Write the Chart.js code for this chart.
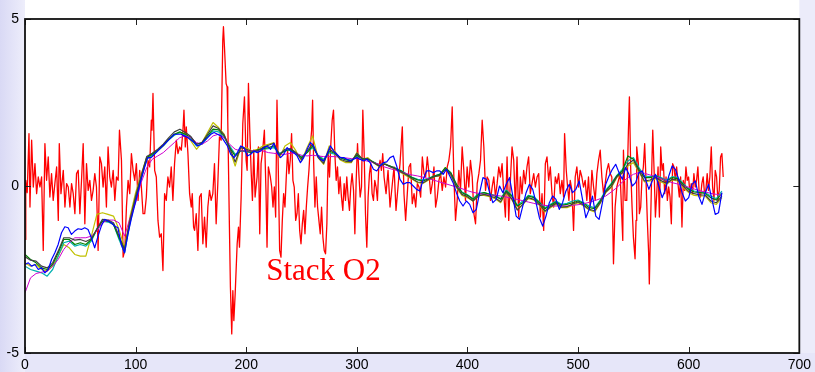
<!DOCTYPE html>
<html>
<head>
<meta charset="utf-8">
<script src="https://cdn.jsdelivr.net/npm/chart.js@4/dist/chart.umd.min.js"></script>
<style>
    html, body { margin: 0; padding: 0; background: #ffffff; }
    canvas { display: block; }
</style>
</head>
<body>
<canvas id="stackChart" width="815" height="372"></canvas>
<script>
// Axis ticks
const xTicks = [0, 100, 200, 300, 400, 500, 600, 700];
const yTicks = [-5, 0, 5];
const chartLabel = "Stack O2";

// Sample positions of the smooth records
const bundleX = [
    0, 5, 10, 15, 20, 25, 30, 35, 40, 45,
    50, 55, 60, 65, 70, 75, 80, 85, 90, 95,
    100, 105, 110, 115, 120, 125, 130, 135, 140, 145,
    150, 155, 160, 165, 170, 175, 180, 185, 190, 195,
    200, 205, 210, 215, 220, 225, 230, 235, 240, 245,
    250, 255, 260, 265, 270, 275, 280, 285, 290, 295,
    300, 305, 310, 315, 320, 325, 330, 335, 340, 345,
    350, 355, 360, 365, 370, 375, 380, 385, 390, 395,
    400, 405, 410, 415, 420, 425, 430, 435, 440, 445,
    450, 455, 460, 465, 470, 475, 480, 485, 490, 495,
    500, 505, 510, 515, 520, 525, 530, 535, 540, 545,
    550, 555, 560, 565, 570, 575, 580, 585, 590, 595,
    600, 605, 610, 615, 620, 625, 630
];

const blackY = [
    -2.12, -2.22, -2.25, -2.40, -2.45, -2.30, -1.95, -1.55, -1.55, -1.62,
    -1.60, -1.66, -1.58, -1.28, -1.00, -1.02, -1.10, -1.50, -1.90, -1.00,
    -0.30, 0.30, 0.88, 0.98, 1.10, 1.25, 1.45, 1.62, 1.70, 1.60,
    1.48, 1.25, 1.30, 1.55, 1.80, 1.72, 1.53, 1.15, 0.72, 1.15,
    1.10, 1.04, 1.05, 1.15, 1.22, 1.28, 0.92, 1.10, 1.12, 1.00,
    0.80, 1.05, 1.25, 0.85, 0.68, 1.10, 1.00, 0.80, 0.74, 0.72,
    0.98, 0.80, 0.82, 0.70, 0.60, 0.66, 0.58, 0.52, 0.42, 0.33,
    0.22, 0.12, 0.10, 0.20, 0.28, 0.32, 0.50, 0.35, -0.02, -0.25,
    -0.32, -0.45, -0.30, -0.25, -0.30, -0.35, -0.47, -0.18, -0.38, -0.72,
    -0.55, -0.35, -0.40, -0.55, -0.75, -0.62, -0.52, -0.63, -0.62, -0.54,
    -0.48, -0.57, -0.70, -0.74, -0.50, -0.18, -0.02, 0.28, 0.40, 0.65,
    0.78, 0.45, 0.15, 0.18, 0.25, 0.16, 0.08, 0.20, 0.18, 0.00,
    -0.16, -0.23, -0.27, -0.27, -0.45, -0.50, -0.30
];

const greenY = [
    -2.05, -2.20, -2.30, -2.45, -2.50, -2.35, -2.00, -1.60, -1.60, -1.75,
    -1.70, -1.75, -1.60, -1.30, -1.05, -1.05, -1.15, -1.55, -1.90, -1.05,
    -0.35, 0.25, 0.85, 0.95, 1.08, 1.22, 1.40, 1.55, 1.62, 1.55,
    1.45, 1.25, 1.30, 1.50, 1.70, 1.68, 1.50, 1.15, 0.90, 1.05,
    1.05, 1.00, 1.08, 1.12, 1.15, 1.20, 0.95, 1.05, 1.10, 0.98,
    0.85, 1.00, 1.20, 0.90, 0.75, 1.05, 0.98, 0.85, 0.78, 0.75,
    0.92, 0.82, 0.80, 0.72, 0.62, 0.65, 0.60, 0.52, 0.45, 0.35,
    0.25, 0.18, 0.15, 0.22, 0.30, 0.35, 0.55, 0.40, 0.05, -0.20,
    -0.28, -0.40, -0.25, -0.20, -0.25, -0.30, -0.40, -0.15, -0.30, -0.60,
    -0.50, -0.30, -0.35, -0.50, -0.68, -0.58, -0.48, -0.58, -0.55, -0.50,
    -0.45, -0.52, -0.65, -0.68, -0.45, -0.15, 0.05, 0.30, 0.45, 0.90,
    0.80, 0.50, 0.25, 0.25, 0.30, 0.22, 0.15, 0.25, 0.22, 0.05,
    -0.10, -0.18, -0.20, -0.22, -0.35, -0.42, -0.22
];

const cyanY = [
    -2.40, -2.50, -2.55, -2.60, -2.70, -2.50, -2.10, -1.70, -1.65, -1.80,
    -1.75, -1.80, -1.65, -1.30, -1.05, -1.08, -1.15, -1.60, -2.00, -1.10,
    -0.40, 0.20, 0.80, 0.92, 1.05, 1.20, 1.38, 1.52, 1.60, 1.52,
    1.42, 1.20, 1.25, 1.45, 1.65, 1.62, 1.45, 1.20, 0.95, 1.05,
    1.02, 1.00, 1.05, 1.10, 1.12, 1.15, 0.98, 1.05, 1.08, 0.95,
    0.88, 1.00, 1.15, 0.92, 0.80, 1.00, 0.95, 0.85, 0.80, 0.78,
    0.90, 0.82, 0.80, 0.72, 0.64, 0.66, 0.60, 0.54, 0.46, 0.36,
    0.26, 0.20, 0.18, 0.24, 0.30, 0.36, 0.50, 0.38, 0.05, -0.18,
    -0.26, -0.38, -0.22, -0.20, -0.24, -0.28, -0.38, -0.12, -0.28, -0.58,
    -0.45, -0.28, -0.32, -0.48, -0.65, -0.55, -0.45, -0.55, -0.52, -0.45,
    -0.42, -0.50, -0.60, -0.65, -0.42, -0.12, 0.08, 0.32, 0.50, 0.75,
    0.85, 0.55, 0.30, 0.28, 0.32, 0.25, 0.18, 0.28, 0.25, 0.08,
    -0.08, -0.15, -0.18, -0.20, -0.30, -0.38, -0.15
];

const yellowY = [
    -2.30, -2.40, -2.35, -2.50, -2.55, -2.40, -2.10, -1.75, -1.85, -2.05,
    -2.10, -2.10, -1.50, -0.85, -0.80, -0.85, -0.90, -1.30, -1.85, -0.90,
    -0.20, 0.35, 0.85, 0.90, 1.05, 1.20, 1.40, 1.55, 1.60, 1.55,
    1.35, 1.10, 1.30, 1.60, 1.90, 1.75, 1.55, 1.10, 0.60, 1.15,
    1.15, 1.05, 1.10, 1.20, 1.25, 1.30, 0.85, 1.20, 1.30, 1.05,
    0.75, 1.15, 1.50, 0.85, 0.65, 1.20, 1.05, 0.78, 0.70, 0.70,
    1.00, 0.80, 0.85, 0.70, 0.58, 0.68, 0.58, 0.50, 0.40, 0.30,
    0.20, 0.10, 0.08, 0.18, 0.28, 0.30, 0.55, 0.30, -0.05, -0.28,
    -0.35, -0.45, -0.28, -0.28, -0.32, -0.38, -0.50, -0.20, -0.40, -0.70,
    -0.55, -0.38, -0.42, -0.58, -0.78, -0.65, -0.55, -0.65, -0.65, -0.58,
    -0.50, -0.60, -0.72, -0.78, -0.52, -0.20, -0.05, 0.25, 0.38, 0.60,
    0.70, 0.42, 0.12, 0.15, 0.22, 0.12, 0.05, 0.18, 0.15, -0.05,
    -0.20, -0.28, -0.30, -0.30, -0.50, -0.55, -0.35
];

const magentaY = [
    -3.20, -2.75, -2.62, -2.58, -2.55, -2.40, -2.20, -1.90, -1.70, -1.55,
    -1.55, -1.55, -1.50, -1.35, -1.10, -1.02, -1.02, -1.10, -1.50, -0.95,
    -0.50, 0.10, 0.55, 0.80, 0.90, 1.00, 1.15, 1.30, 1.45, 1.50,
    1.45, 1.30, 1.25, 1.35, 1.50, 1.55, 1.45, 1.25, 1.10, 1.05,
    1.05, 1.05, 1.05, 1.05, 1.00, 0.98, 0.95, 0.95, 0.98, 0.98,
    0.92, 0.90, 0.92, 0.90, 0.88, 0.88, 0.88, 0.86, 0.84, 0.82,
    0.82, 0.78, 0.74, 0.70, 0.65, 0.57, 0.52, 0.47, 0.42, 0.37,
    0.33, 0.30, 0.26, 0.22, 0.17, 0.12, 0.07, 0.02, -0.03, -0.08,
    -0.14, -0.19, -0.22, -0.25, -0.27, -0.28, -0.30, -0.33, -0.37, -0.40,
    -0.44, -0.48, -0.52, -0.56, -0.58, -0.60, -0.60, -0.60, -0.60, -0.58,
    -0.56, -0.53, -0.49, -0.44, -0.38, -0.30, -0.18, -0.05, 0.12, 0.25,
    0.35, 0.40, 0.38, 0.33, 0.28, 0.22, 0.16, 0.10, 0.06, 0.01,
    -0.04, -0.09, -0.14, -0.18, -0.22, -0.25, -0.28
];

// Blue record is sampled more finely (it wiggles faster)
const blueX = [
    0, 3, 6, 9, 12, 15, 18, 21, 24, 27,
    30, 33, 36, 39, 42, 45, 48, 51, 54, 57,
    60, 63, 66, 69, 72, 75, 78, 81, 84, 87,
    90, 93, 96, 99, 102, 105, 108, 111, 114, 117,
    120, 123, 126, 129, 132, 135, 138, 141, 144, 147,
    150, 153, 156, 159, 162, 165, 168, 171, 174, 177,
    180, 183, 186, 189, 192, 195, 198, 201, 204, 207,
    210, 213, 216, 219, 222, 225, 228, 231, 234, 237,
    240, 243, 246, 249, 252, 255, 258, 261, 264, 267,
    270, 273, 276, 279, 282, 285, 288, 291, 294, 297,
    300, 303, 306, 309, 312, 315, 318, 321, 324, 327,
    330, 333, 336, 339, 342, 345, 348, 351, 354, 357,
    360, 363, 366, 369, 372, 375, 378, 381, 384, 387,
    390, 393, 396, 399, 402, 405, 408, 411, 414, 417,
    420, 423, 426, 429, 432, 435, 438, 441, 444, 447,
    450, 453, 456, 459, 462, 465, 468, 471, 474, 477,
    480, 483, 486, 489, 492, 495, 498, 501, 504, 507,
    510, 513, 516, 519, 522, 525, 528, 531, 534, 537,
    540, 543, 546, 549, 552, 555, 558, 561, 564, 567,
    570, 573, 576, 579, 582, 585, 588, 591, 594, 597,
    600, 603, 606, 609, 612, 615, 618, 621, 624, 627,
    630
];

const blueY = [
    -2.35, -2.30, -2.40, -2.35, -2.50, -2.45, -2.60, -2.50, -2.20, -2.00,
    -1.75, -1.40, -1.22, -1.25, -1.45, -1.35, -1.28, -1.30, -1.25, -1.30,
    -1.55, -1.85, -1.50, -1.20, -1.00, -1.05, -1.10, -1.20, -1.25, -1.75,
    -2.00, -1.45, -1.00, -0.60, -0.20, 0.20, 0.55, 0.85, 0.85, 0.95,
    1.05, 1.15, 1.25, 1.35, 1.45, 1.55, 1.55, 1.55, 1.50, 1.45,
    1.38, 1.30, 1.20, 1.25, 1.35, 1.45, 1.55, 1.60, 1.55, 1.50,
    1.35, 1.20, 0.95, 0.85, 1.00, 1.20, 1.15, 0.90, 0.95, 1.05,
    1.00, 1.05, 1.15, 1.20, 1.10, 1.28, 1.00, 0.85, 0.95, 1.15,
    1.05, 1.00, 0.90, 0.70, 0.85, 1.10, 1.30, 1.20, 0.95, 0.80,
    0.75, 0.95, 1.20, 1.05, 0.95, 0.85, 0.85, 0.80, 0.75, 0.80,
    0.85, 0.80, 0.75, 0.80, 0.70, 0.50, 0.45, 0.60, 0.70, 0.72,
    0.85, 0.90, 0.60, 0.20, 0.05, 0.10, 0.10, 0.00, -0.10, -0.15,
    0.20, 0.45, 0.45, 0.40, 0.45, 0.45, 0.35, 0.50, 0.30, 0.10,
    -0.20, -0.45, -0.60, -0.45, -0.55, -0.80, -0.70, -0.20, 0.25, 0.20,
    -0.20, -0.50, -0.40, 0.00, -0.20, 0.05, 0.25, -0.30, -0.90, -1.00,
    -0.60, -0.20, 0.05, -0.10, -0.50, -0.95, -1.20, -0.90, -0.50, -0.30,
    -0.40, -0.70, -0.50, -0.15, 0.05, -0.20, -0.10, 0.15, -0.40, -0.95,
    -0.70, -0.30, -0.90, -1.00, -0.50, 0.05, 0.30, 0.50, 0.65, 0.40,
    0.20, 0.55, 0.35, 0.00, 0.10, 0.40, 0.45, 0.20, -0.10, 0.15,
    0.35, 0.00, -0.35, -0.10, 0.30, 0.60, 0.50, 0.20, -0.20, -0.45,
    -0.35, 0.05, 0.15, -0.30, -0.55, -0.20, 0.05, -0.40, -0.85, -0.80,
    -0.20
];

// Noisy red record, read as [x, y] pairs
const redPoints = [
    [0, -1.60], [0.7, 0.17], [2.0, -0.20], [3.6, 1.57], [4.5, -0.63], [6.0, 1.37], [7.5, -0.03], [9.0, 0.67],
    [10.5, -0.23], [12.0, 0.27], [13.5, -0.03], [15.0, 0.27], [16.5, -1.93], [18.0, 1.27], [19.5, 0.17], [21.0, 0.87],
    [22.5, -0.33], [24.0, 0.37], [25.5, -0.43], [27.0, 0.07], [28.6, 0.57], [30.1, -1.03], [31.0, 1.27], [32.5, -0.23],
    [34.6, 0.47], [36.1, -0.63], [37.6, 0.07], [39.1, -0.03], [40.6, -0.63], [42.1, 0.07], [43.6, -0.23], [45.1, -0.83],
    [46.6, 0.37], [48.1, 0.47], [49.6, -0.83], [51.1, 0.17], [52.6, 1.27], [54.1, -1.13], [55.6, 0.67], [57.1, -0.13],
    [58.6, 0.17], [60.1, -0.43], [61.6, -0.13], [63.1, 0.37], [64.6, -0.03], [66.1, -1.93], [67.6, 0.87], [69.1, 0.67],
    [70.6, -0.03], [72.1, 0.57], [73.6, -0.63], [75.1, 1.17], [76.6, 0.27], [78.1, -0.03], [79.7, 0.47], [81.2, -0.43],
    [82.7, 0.27], [84.2, 0.17], [85.4, 1.67], [87.2, 0.77], [88.7, -2.13], [90.2, -1.93], [91.7, -0.63], [93.2, 0.17],
    [94.7, -0.23], [96.2, 0.97], [97.7, 0.47], [99.2, 0.17], [100.7, 0.67], [102.2, -0.43], [103.7, 0.47], [105.2, -0.03],
    [106.7, -0.83],
    [108.2, -0.83], [109.7, -0.33], [111.2, 0.77], [112.7, 0.57], [114.2, 1.97], [114.8, 1.67], [115.7, 2.77], [117.2, 0.47],
    [118.7, 0.27], [120.2, -1.03], [121.7, -1.53], [123.2, -1.43], [124.7, -2.53], [126.2, -0.23], [127.7, -0.43], [129.2, 0.27],
    [130.7, -0.03], [132.2, 0.57], [133.7, -0.43], [135.2, 0.67], [136.8, 1.37], [138.3, 0.97], [139.8, 1.17], [141.3, 1.07],
    [142.8, 1.67], [143.7, 2.27], [144.9, 1.17], [145.8, 1.77], [147.3, 0.97], [148.8, -0.23], [150.3, -0.63], [151.2, -0.23],
    [152.4, -1.23], [153.3, -1.33], [154.8, -0.83], [156.3, -1.93], [157.8, -0.33], [159.3, -0.23], [160.8, -1.73], [162.3, -0.93],
    [163.8, -1.83], [165.3, -0.63], [166.8, -0.13], [168.3, -0.43], [169.8, -0.23], [171.3, 0.67], [172.8, -1.13], [174.3, 0.07],
    [175.8, 1.47], [177.3, 1.37], [178.8, 4.37], [179.4, 4.77], [180.3, 4.17], [181.8, 3.07], [182.7, 2.97], [183.3, 1.97],
    [184.8, -1.23], [185.7, -3.03], [186.9, -4.43], [187.9, -3.13], [188.8, -4.03], [190.0, -3.23], [191.8, -1.73], [193.0, -1.23],
    [193.9, -1.83], [195.4, -0.33], [196.9, 1.87], [198.4, 2.67], [199.9, 0.77], [200.8, 0.47], [202.0, 3.07], [203.2, 1.67],
    [204.4, 0.47], [205.6, -0.43], [206.8, 1.07], [208.0, -0.33], [209.8, 0.27], [211.0, 1.17], [212.2, -1.43], [213.4, 0.67],
    [214.9, 1.07],
    [216.4, 1.67], [217.9, -0.23], [218.8, -1.83], [220.0, 0.57], [221.8, 0.27], [223.0, -0.03], [224.2, -0.63], [225.4, -0.03],
    [226.6, -0.93], [227.8, 2.57], [229.0, 0.47], [230.2, -1.93], [231.4, -2.13], [232.6, -1.03], [233.8, -0.23], [235.0, -0.63],
    [236.2, 0.27], [237.4, 1.07], [238.6, 0.37], [239.8, 0.77], [241.0, 1.57], [242.2, 0.17], [243.4, -0.03], [244.7, -1.03],
    [245.9, -0.83], [247.1, -0.23], [248.3, -1.33], [249.5, -1.73], [250.7, -1.13], [251.9, -0.73], [253.1, -1.43], [254.3, -0.63],
    [255.5, -0.03], [256.7, 0.47], [257.9, 1.17], [259.1, 1.67], [260.0, 2.57], [260.9, 0.77], [262.1, -0.63], [263.3, 0.27],
    [264.5, -0.63], [265.7, -1.03], [266.9, -1.43], [268.1, -0.63], [269.3, -1.53], [270.5, -1.93], [271.7, -2.03], [272.9, -1.13],
    [274.1, 0.97], [275.3, 0.27], [276.5, 1.27], [277.7, 1.97], [278.9, 2.27], [280.1, 0.97], [281.3, 0.17], [282.5, 0.57],
    [283.7, -0.23], [284.9, 0.27], [286.1, -0.33], [287.3, -0.73], [288.5, 0.07], [289.7, -0.43], [290.9, 0.27], [292.1, -0.33],
    [293.3, -0.73], [294.5, -0.03], [295.7, 0.37], [297.0, -0.13], [298.2, -1.43], [299.4, 0.17], [300.6, 1.27], [301.8, 0.37],
    [303.0, -0.33], [304.2, -0.03], [305.4, 2.27], [306.6, 0.97], [307.8, -0.83], [309.0, -1.83], [310.2, -0.33], [311.4, 0.37],
    [312.6, 0.67], [313.8, -0.23], [315.0, -0.43], [316.2, 0.17], [317.4, -0.03], [318.6, -0.43], [319.8, 0.57], [321.0, 0.77],
    [322.2, 0.47], [323.4, 0.97],
    [324.6, 0.27], [326.4, -0.23], [328.2, 0.47], [330.0, -0.63], [331.8, -0.03], [333.6, 0.57], [335.4, -0.73], [337.2, -0.03],
    [339.0, 0.67], [341.1, 1.77], [342.6, -0.23], [344.1, -1.03], [345.6, -0.23], [347.1, 0.57], [348.6, 0.67], [350.1, -0.53],
    [351.7, -0.23], [353.2, -0.63], [354.7, 0.07], [356.2, -0.03], [357.7, -0.33], [359.2, 0.87], [360.7, 0.37], [362.2, 0.27],
    [363.7, 0.87], [365.2, 0.37], [366.7, -0.23], [368.2, 0.07], [369.7, 0.57], [371.2, -0.63], [372.7, -0.33], [374.2, 0.17],
    [375.7, 0.37], [377.2, -0.13], [378.7, 0.27], [380.2, -0.03], [381.7, 0.57], [383.2, 0.77], [384.7, 1.17], [386.2, 2.37],
    [387.7, 0.27], [389.2, -1.03], [390.7, -0.43], [392.2, 0.47], [393.7, -0.13], [395.2, 1.17], [396.7, 0.47], [398.2, -0.43],
    [399.7, 0.57], [401.2, -0.03], [402.7, 0.77], [404.3, 0.27], [405.8, -0.83], [407.3, -1.13], [408.8, 0.07], [410.3, 0.37],
    [411.8, 0.77], [413.3, 1.97], [414.8, 1.17], [416.3, -0.13], [417.8, 0.27], [419.3, 0.17], [420.8, -0.43], [422.3, -0.03],
    [423.8, 0.27], [425.3, -0.33], [426.8, 0.07], [428.3, 0.57], [429.8, 0.27], [431.3, 0.67],
    [432.8, -0.23], [434.3, -0.93], [435.8, 0.87], [437.3, -1.03], [438.8, 0.17], [440.3, 1.17], [441.8, 0.77], [443.3, -0.63],
    [444.8, 0.87], [446.3, -0.93], [447.8, 0.27], [449.3, -0.23], [450.8, 0.47], [452.3, 0.07], [453.8, 0.57], [455.3, 0.87],
    [456.8, -0.23], [458.3, 0.07], [459.9, 0.37], [461.4, -0.03], [462.9, 0.27], [464.4, 0.37], [465.9, -0.93], [467.4, -0.23],
    [468.9, -1.33], [470.4, 0.67], [471.9, 0.87], [473.4, 0.17], [474.9, 0.57], [476.4, -0.23], [477.9, -0.63], [479.4, 0.27],
    [480.9, 0.07], [482.4, 0.37], [483.9, -0.23], [485.4, 0.17], [486.9, -0.33], [487.8, 1.57], [489.3, 0.47], [490.5, -0.03],
    [491.7, -0.43], [492.9, 0.17], [494.4, -0.13], [495.9, -1.33], [497.4, 0.27], [498.9, 0.57], [500.4, -0.03], [501.9, 0.47],
    [503.4, 0.27], [504.9, -0.03], [506.4, 0.17], [507.9, -0.43], [509.4, 0.27], [510.9, -0.63], [512.5, 0.47], [514.0, -0.03],
    [515.5, -0.43], [517.0, 0.37], [518.5, 0.77], [520.0, 1.07], [521.5, 0.27], [523.0, -0.23], [524.5, 0.07], [526.0, 0.47],
    [527.5, 0.67], [529.0, 0.37], [530.5, 0.27], [532.0, -2.33], [533.5, -0.63], [535.0, -0.03], [536.5, 0.17], [538.0, 0.37],
    [540.4, -1.63],
    [541.0, 1.07], [542.5, -0.43], [544.0, -0.43], [545.5, 1.67], [546.4, 2.67], [547.6, 0.47], [548.8, -0.63], [550.0, -1.53],
    [551.5, -2.18], [552.4, -1.03], [553.0, 1.17], [554.5, 0.67], [555.4, -0.83], [556.6, -0.63], [557.8, 0.27], [559.0, 0.57],
    [560.2, 1.27], [561.4, 0.17], [562.6, -1.03], [563.8, -2.03], [564.4, -2.93], [565.6, -1.03], [566.8, 0.77], [567.5, 1.67],
    [568.7, 0.47], [569.9, -0.93], [571.1, -0.23], [572.3, 0.57], [573.5, -0.93], [574.7, 1.17], [575.9, 0.47], [577.1, 0.67],
    [578.3, -0.23], [579.5, 0.27], [580.7, -0.43], [581.9, -0.03], [583.1, -0.33], [584.3, -1.13], [585.5, 0.67], [586.7, 0.57],
    [587.9, 0.17], [589.1, 0.57], [590.3, 0.07], [591.5, -0.33], [592.7, 0.27], [593.9, -1.23], [595.1, 0.17], [596.3, -0.13],
    [597.5, 0.57], [598.7, 0.17], [599.9, 0.27], [601.1, -0.23], [602.3, 0.07], [603.5, -0.23], [604.7, 0.37], [605.9, -0.03],
    [607.1, 0.17], [608.3, 0.57], [609.5, -0.23], [610.7, -0.33], [611.9, 0.07], [613.1, 0.27], [614.3, -0.23], [615.5, -0.13],
    [616.7, 0.37], [617.9, -0.13], [619.1, 0.27], [620.4, 1.17], [621.6, -0.03], [622.8, -0.43], [624.0, 0.47], [625.2, 0.27],
    [626.4, -0.43], [627.6, -0.13], [628.8, 0.87], [630.0, 0.97], [631.2, 0.27]
];

// Helpers
const pairUp = (xs, ys) => xs.map((x, i) => ({ x: x, y: ys[i] }));
const lineSet = (label, color, data, width) => ({
    label: label,
    data: data,
    borderColor: color,
    backgroundColor: color,
    borderWidth: width || 1.2,
    pointRadius: 0,
    fill: false,
    tension: 0,
    borderJoinStyle: "round"
});

// Background like the slide it was cut from
const backdrop = {
    id: "backdrop",
    beforeDraw(chart) {
        const { ctx, width, height, chartArea: a } = chart;
        ctx.save();
        ctx.fillStyle = "#ffffff";
        ctx.fillRect(0, 0, width, height);
        const g = ctx.createLinearGradient(0, 0, a.left, 0);
        g.addColorStop(0, "#d9d9f5");
        g.addColorStop(1, "#eeeefb");
        ctx.fillStyle = g;
        ctx.fillRect(0, 0, a.left, height);
        ctx.fillStyle = "#e6e6f9";
        ctx.fillRect(a.left, a.bottom, width - a.left, height - a.bottom);
        ctx.fillStyle = "#ececfa";
        ctx.fillRect(a.right, 0, width - a.right, a.bottom);
        ctx.fillStyle = "#ffffff";
        ctx.fillRect(a.left, a.top, a.right - a.left, a.bottom - a.top);
        ctx.restore();
    }
};

// Matlab style box with inward ticks, plus the label
const frame = {
    id: "frame",
    afterDatasetsDraw(chart) {
        const { ctx, chartArea: a, scales: { x, y } } = chart;
        ctx.save();
        ctx.strokeStyle = "#222";
        ctx.lineWidth = 1;
        ctx.beginPath();
        xTicks.forEach(v => {
            const px = Math.round(x.getPixelForValue(v)) + 0.5;
            ctx.moveTo(px, a.bottom); ctx.lineTo(px, a.bottom - 6);
            ctx.moveTo(px, a.top); ctx.lineTo(px, a.top + 6);
        });
        yTicks.forEach(v => {
            const py = Math.round(y.getPixelForValue(v)) + 0.5;
            ctx.moveTo(a.left, py); ctx.lineTo(a.left + 6, py);
            ctx.moveTo(a.right, py); ctx.lineTo(a.right - 6, py);
        });
        ctx.stroke();
        ctx.strokeStyle = "#111";
        ctx.lineWidth = 1.8;
        ctx.strokeRect(a.left, a.top, a.right - a.left, a.bottom - a.top);

        ctx.fillStyle = "#ff0000";
        ctx.font = '31px "Liberation Serif", "Times New Roman", serif';
        ctx.textBaseline = "alphabetic";
        ctx.textAlign = "left";
        ctx.fillText(chartLabel, x.getPixelForValue(218), y.getPixelForValue(-2.8));
        ctx.restore();
    }
};

const tickFont = { family: '"Liberation Sans", Arial, sans-serif', size: 14 };

const ctx = document.getElementById("stackChart").getContext("2d");
const chart = new Chart(ctx, {
    type: "line",
    data: {
        datasets: [
            lineSet("blue", "#0000ff", pairUp(blueX, blueY), 1.2),
            lineSet("black", "#404040", pairUp(bundleX, blackY)),
            lineSet("magenta", "#d000d0", pairUp(bundleX, magentaY), 1),
            lineSet("green", "#008000", pairUp(bundleX, greenY)),
            lineSet("cyan", "#00b0b0", pairUp(bundleX, cyanY)),
            lineSet("yellow", "#c0c000", pairUp(bundleX, yellowY)),
            lineSet("red", "#ff0000", redPoints.map(p => ({ x: p[0], y: p[1] })), 1.3)
        ]
    },
    options: {
        responsive: false,
        animation: false,
        layout: { padding: { top: 19, right: 14, left: 0, bottom: 0 } },
        plugins: {
            legend: { display: false },
            tooltip: { enabled: false }
        },
        scales: {
            x: {
                type: "linear",
                min: 0,
                max: 700,
                ticks: { stepSize: 100, color: "#000", font: tickFont, padding: 4, maxRotation: 0 },
                grid: { display: false, drawTicks: false },
                border: { display: false },
                afterFit: s => { s.height = 19; }
            },
            y: {
                type: "linear",
                min: -5,
                max: 5,
                ticks: { stepSize: 5, color: "#000", font: tickFont, padding: 6 },
                grid: { display: false, drawTicks: false },
                border: { display: false },
                afterFit: s => { s.width = 25; }
            }
        }
    },
    plugins: [backdrop, frame]
});
</script>
</body>
</html>
